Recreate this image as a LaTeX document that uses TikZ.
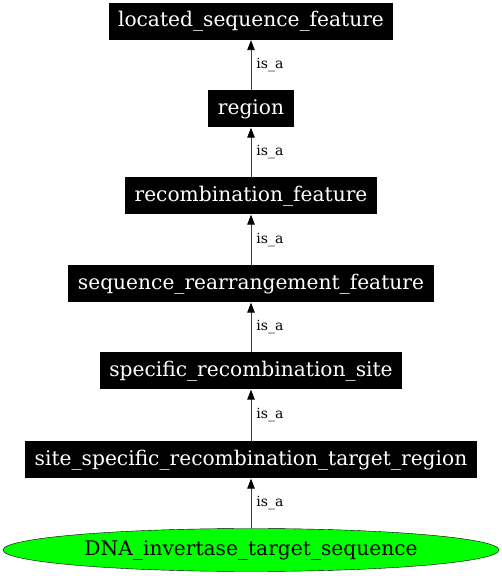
\documentclass[tikz,border=0pt]{standalone}
\usepackage{fontspec}
\setmainfont{DejaVu Serif}
\usetikzlibrary{arrows.meta,shapes.geometric}
\tikzset{
  termbox/.style={fill=black,text=white,inner xsep=9.5pt,inner ysep=0pt,minimum height=37pt,font=\fontsize{20.2}{24}\selectfont},
  leafnode/.style={ellipse,draw=black,fill=green,inner sep=0pt,minimum width=496pt,minimum height=43pt,font=\fontsize{20.2}{24}\selectfont},
  isa/.style={draw=black!75,line width=0.9pt,-{Triangle[length=10pt,width=7.5pt,fill=black,color=black]}},
  isalabel/.style={font=\fontsize{14}{16}\selectfont,inner sep=0pt,anchor=west}
}
\begin{document}
\begin{tikzpicture}[x=1pt,y=1pt]
\useasboundingbox (0,0) rectangle (502,576);
\node[termbox] (lsf) at (251,554.5) {located\_sequence\_feature};
\node[termbox] (reg) at (251,467) {region};
\node[termbox] (rf) at (251,380) {recombination\_feature};
\node[termbox] (srf) at (251,292) {sequence\_rearrangement\_feature};
\node[termbox] (srs) at (251,205) {specific\_recombination\_site};
\node[termbox] (ssr) at (251,116) {site\_specific\_recombination\_target\_region};
\node[leafnode] (dna) at (251,26) {DNA\_invertase\_target\_sequence};
\draw[isa] (reg) -- node[isalabel,xshift=5pt]{is\_a} (lsf);
\draw[isa] (rf) -- node[isalabel,xshift=5pt]{is\_a} (reg);
\draw[isa] (srf) -- node[isalabel,xshift=5pt]{is\_a} (rf);
\draw[isa] (srs) -- node[isalabel,xshift=5pt]{is\_a} (srf);
\draw[isa] (ssr) -- node[isalabel,xshift=5pt]{is\_a} (srs);
\draw[isa] (dna) -- node[isalabel,xshift=5pt]{is\_a} (ssr);
\end{tikzpicture}
\end{document}
